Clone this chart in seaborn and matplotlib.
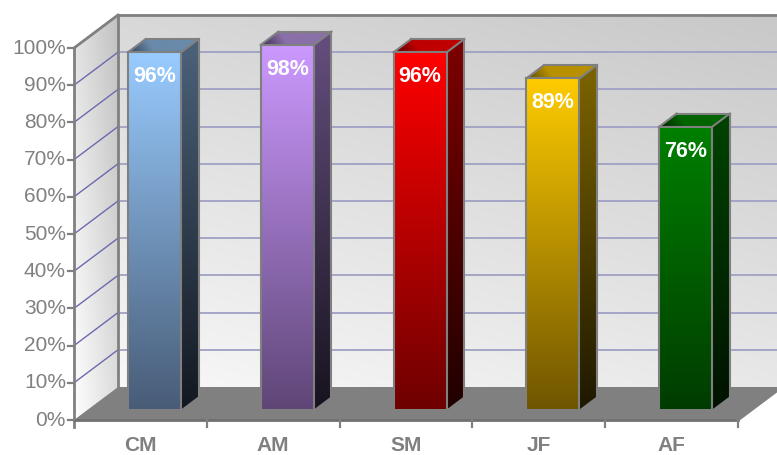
import numpy as np
import matplotlib
matplotlib.use("Agg")
import matplotlib.pyplot as plt
import matplotlib.transforms as mtransforms
from matplotlib.patches import Polygon
from matplotlib.colors import to_rgb
import pandas as pd
import seaborn as sns

# ---------------------------------------------------------------- data
categories = ["CM", "AM", "SM", "JF", "AF"]
values = [96, 98, 96, 89, 76]
value_labels = ["96%", "98%", "96%", "89%", "76%"]
y_ticks = [0, 10, 20, 30, 40, 50, 60, 70, 80, 90, 100]
y_tick_labels = ["0%", "10%", "20%", "30%", "40%", "50%", "60%", "70%", "80%", "90%", "100%"]

# bar shading: front face (top -> bottom), side face (top -> bottom), roof (back -> front)
front_top = ["#99ccff", "#cc99ff", "#ff0000", "#ffcc00", "#008000"]
front_bottom = ["#485c77", "#5f4677", "#6e0000", "#6f5500", "#003c00"]
side_top = ["#4a6078", "#634d7c", "#7a0000", "#7a6200", "#004200"]
side_bottom = ["#131820", "#17131f", "#200000", "#1e1800", "#001200"]
roof_back = ["#6a8aaa", "#8a70a8", "#c00000", "#b89000", "#006400"]
roof_front = ["#2e4058", "#3a2a50", "#580000", "#5a4800", "#002000"]

# ---------------------------------------------------------------- style
sns.set_theme(style="white")
plt.rcParams["font.family"] = ["Liberation Sans", "DejaVu Sans"]

W, H = 777, 455
fig = plt.figure(figsize=(W / 100, H / 100), dpi=100)
ax = fig.add_axes([0, 0, 1, 1])

# front plane of the box in pixels, and the depth vector
PX0, PX1 = 74, 738          # x = -0.5 .. 4.5
PY0, PPER = 420, 3.72       # y = 0 at PY0, PPER pixels per percent
DXP, DYP = 44, 33           # back wall offset
sx = (PX1 - PX0) / len(categories)
XL = (-0.5 - PX0 / sx, -0.5 + (W - PX0) / sx)
YL = (-(H - PY0) / PPER, PY0 / PPER)
DX, DY = DXP / sx, DYP / PPER
Z0, Z1 = 0.32, 0.72         # bar depth range
HALF = 0.2                  # bar half width
GREY = "#808080"


def proj(x, y, z):
    return (x + z * DX, y + z * DY)


def px_metric(x, y):
    return np.asarray(x) * sx, np.asarray(y) * PPER


def shaded_image(pts, shade, zorder, clip=None):
    """Fill a polygon with an image whose colour is shade(Xpx, Ypx) (pixel units)."""
    pts = np.asarray(pts, dtype=float)
    if clip is None:
        clip = Polygon(pts, closed=True, facecolor="none", edgecolor="none",
                       transform=ax.transData)
        ax.add_patch(clip)
    xmin, ymin = pts.min(axis=0)
    xmax, ymax = pts.max(axis=0)
    n = 300
    X, Y = np.meshgrid(np.linspace(xmin, xmax, n), np.linspace(ymin, ymax, n))
    img = np.clip(shade(*px_metric(X, Y)), 0, 1)
    im = ax.imshow(img, extent=(xmin, xmax, ymin, ymax), origin="lower",
                   aspect="auto", interpolation="bilinear", zorder=zorder)
    im.set_clip_path(clip)
    return im


def linear(c0, c1, p0, p1):
    ax0, ay0 = px_metric(*p0)
    ax1, ay1 = px_metric(*p1)
    vx, vy = ax1 - ax0, ay1 - ay0
    a, b = np.array(to_rgb(c0)), np.array(to_rgb(c1))

    def shade(Xp, Yp):
        t = ((Xp - ax0) * vx + (Yp - ay0) * vy) / (vx * vx + vy * vy)
        t = np.clip(t, 0, 1)[..., None]
        return (1 - t) * a + t * b
    return shade


def line(p, q, color=GREY, lw=1.6, zorder=3):
    ax.plot([p[0], q[0]], [p[1], q[1]], color=color, lw=lw, zorder=zorder,
            solid_capstyle="projecting")


# ---------------------------------------------------------------- front faces via seaborn
df = pd.DataFrame({"category": categories, "value": values})
sns.barplot(data=df, x="category", y="value", hue="category", palette=front_top,
            width=2 * HALF, legend=False, ax=ax, linewidth=0, edgecolor="none",
            saturation=1)
shift = mtransforms.Affine2D().translate(Z0 * DX, Z0 * DY)
front_patches = list(ax.patches)
for p in front_patches:
    p.set_transform(shift + ax.transData)
    p.set_zorder(6)

# ---------------------------------------------------------------- walls and floor
right = XL[1] + 1.0
back = [proj(-0.5, 0, 1), proj(-0.5, 100, 1), proj(right, 100, 1), proj(right, 0, 1)]
bx0, by0 = px_metric(*proj(-0.5, 0, 1))
bwidth, bheight = W - (PX0 + DXP), 100 * PPER


def back_shade(Xp, Yp):
    v = (Yp - by0) / bheight
    h = (Xp - bx0) / bwidth
    g = (248 - 32 * v - 16 * h) / 255
    return np.repeat(g[..., None], 3, axis=2)


shaded_image(back, back_shade, zorder=0)

side = [proj(-0.5, 0, 0), proj(-0.5, 100, 0), proj(-0.5, 100, 1), proj(-0.5, 0, 1)]
sx0, sy0 = px_metric(*proj(-0.5, 0, 0))


def side_shade(Xp, Yp):
    u = (Xp - sx0) / DXP
    v = (Yp - sy0 - u * DYP) / bheight
    g = (255 - 26 * v - 36 * u) / 255
    return np.repeat(g[..., None], 3, axis=2)


shaded_image(side, side_shade, zorder=0)

floor = [proj(-0.5, 0, 0), proj(4.5, 0, 0), proj(4.5, 0, 1), proj(-0.5, 0, 1)]
ax.add_patch(Polygon(floor, closed=True, facecolor="#808080", edgecolor="none", zorder=2))

# gridlines on back and side walls
for v in y_ticks[1:-1]:
    line(proj(-0.5, v, 1), proj(right, v, 1), color="#a0a0c4", lw=1.3, zorder=1)
for v in y_ticks[1:]:
    line(proj(-0.5, v, 0), proj(-0.5, v, 1), color="#6a6aae", lw=1.0, zorder=1)

# box outline
line(proj(-0.5, 0, 1), proj(-0.5, 100, 1), lw=2.0)
line(proj(-0.5, 100, 0), proj(-0.5, 100, 1), lw=2.0)
line(proj(-0.5, 100, 1), proj(right, 100, 1), lw=2.0)
line(proj(-0.5, -7 / PPER, 0), proj(-0.5, 100, 0), lw=2.0)
line(proj(-0.5, 0, 0), proj(4.5, 0, 0), color="#707070", lw=2.0)
line(proj(4.5, 0, 0), proj(4.5, 0, 1), lw=2.0)

# ticks
for v in y_ticks:
    line((-0.5 - 6 / sx, v), (-0.5, v), lw=1.6)
for k in range(1, len(categories) + 1):
    line((k - 0.5, 0), (k - 0.5, -7 / PPER), lw=1.6)

# ---------------------------------------------------------------- bars
for i, (h, p) in enumerate(zip(values, front_patches)):
    x0, x1 = i - HALF, i + HALF
    fpts = [proj(x0, 0, Z0), proj(x1, 0, Z0), proj(x1, h, Z0), proj(x0, h, Z0)]
    shaded_image(fpts, linear(front_top[i], front_bottom[i], proj(x0, h, Z0), proj(x0, 0, Z0)),
                 zorder=7, clip=p)
    spts = [proj(x1, 0, Z0), proj(x1, 0, Z1), proj(x1, h, Z1), proj(x1, h, Z0)]
    shaded_image(spts, linear(side_top[i], side_bottom[i], proj(x1, h, Z0), proj(x1, 0, Z0)),
                 zorder=5)
    tpts = [proj(x0, h, Z0), proj(x1, h, Z0), proj(x1, h, Z1), proj(x0, h, Z1)]
    shaded_image(tpts, linear(roof_back[i], roof_front[i], proj(x0, h, Z1), proj(x0, h, Z0)),
                 zorder=5)

    # outline (no edge along the floor)
    for a, b in [((x0, 0, Z0), (x0, h, Z0)), ((x0, h, Z0), (x1, h, Z0)),
                 ((x1, h, Z0), (x1, 0, Z0)), ((x0, h, Z0), (x0, h, Z1)),
                 ((x0, h, Z1), (x1, h, Z1)), ((x1, h, Z1), (x1, h, Z0)),
                 ((x1, h, Z1), (x1, 0, Z1))]:
        line(proj(*a), proj(*b), lw=1.5, zorder=8)

    cx, cy = proj(i, h, Z0)
    ax.text(cx, cy - 24.5 / PPER, value_labels[i], color="white", fontsize=15.5,
            fontweight="bold", ha="center", va="center", zorder=9)

# ---------------------------------------------------------------- axis text
for v, lab in zip(y_ticks, y_tick_labels):
    ax.text(-0.5 - 8 / sx, v, lab, color=GREY, fontsize=15, ha="right", va="center")
for i, c in enumerate(categories):
    ax.text(i, -25.5 / PPER, c, color=GREY, fontsize=15, fontweight="bold",
            ha="center", va="center")

ax.set_xlim(XL)
ax.set_ylim(YL)
ax.axis("off")
fig.savefig("out.png", dpi=100, facecolor="white")
